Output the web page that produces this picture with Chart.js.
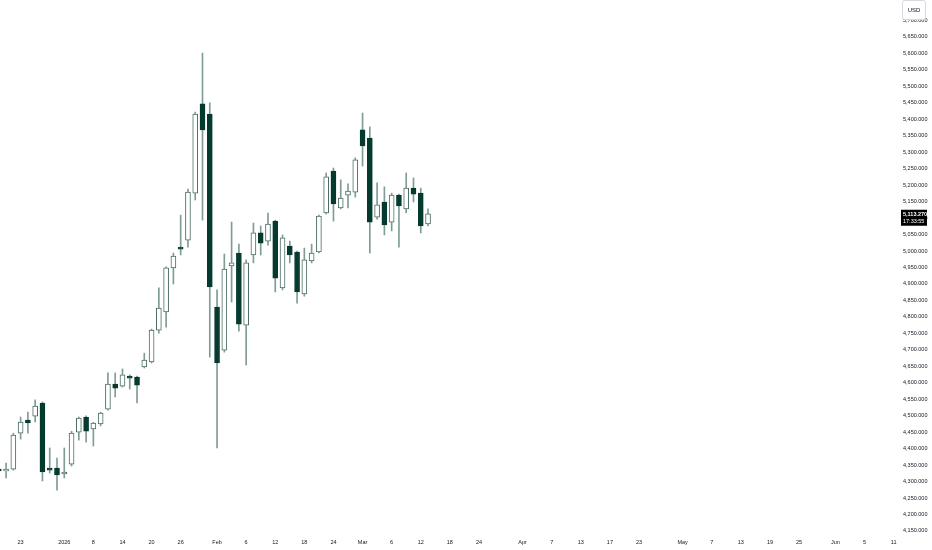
<!DOCTYPE html>
<html>
<head>
<meta charset="utf-8">
<script src="https://cdn.jsdelivr.net/npm/chart.js@4"></script>
<style>
  html, body { margin: 0; padding: 0; background: #ffffff; }
  #wrap { width: 932px; height: 550px; }
</style>
</head>
<body>
<div id="wrap"><canvas id="priceChart" width="932" height="550"></canvas></div>
<script>
// daily candles, Dec 18 .. Mar 13 (one entry per trading day)
const openP = [4338, 4332, 4338, 4447, 4487, 4499, 4538, 4341, 4341, 4323,
  4353, 4450, 4496, 4460, 4475, 4520, 4596, 4590, 4620, 4617,
  4648, 4663, 4760, 4815, 4949, 5012, 5033, 5176, 5447, 5416,
  4830, 4699, 4955, 4994, 4775, 4988, 5055, 5030, 5091, 4888,
  5015, 4997, 4870, 4970, 4997, 5116, 5243, 5131, 5170, 5179,
  5368, 5343, 5103, 5149, 5088, 5170, 5128, 5191, 5176, 5082];
const highP = [4341, 4356, 4447, 4496, 4511, 4548, 4542, 4402, 4371, 4402,
  4453, 4496, 4500, 4480, 4511, 4630, 4630, 4642, 4624, 4620,
  4690, 4763, 4888, 4952, 4994, 5109, 5188, 5422, 5601, 5450,
  4882, 4991, 5088, 5021, 4973, 5085, 5076, 5115, 5094, 5049,
  5030, 5000, 5009, 5021, 5109, 5237, 5252, 5216, 5204, 5283,
  5419, 5377, 5207, 5195, 5176, 5173, 5237, 5222, 5191, 5128];
const lowP = [4329, 4311, 4335, 4429, 4447, 4481, 4302, 4326, 4274, 4311,
  4347, 4426, 4420, 4408, 4469, 4517, 4557, 4587, 4581, 4539,
  4645, 4660, 4751, 4769, 4900, 4988, 5012, 5155, 5094, 4678,
  4402, 4693, 4845, 4757, 4654, 4964, 4988, 5018, 4876, 4882,
  4964, 4842, 4863, 4964, 4994, 5112, 5091, 5128, 5131, 5164,
  5258, 4994, 5097, 5049, 5061, 5012, 5116, 5149, 5055, 5076];
const closeP = [4332, 4338, 4441, 4481, 4478, 4529, 4329, 4335, 4320, 4329,
  4447, 4493, 4453, 4478, 4508, 4596, 4584, 4624, 4614, 4593,
  4669, 4760, 4827, 4949, 4985, 5006, 5179, 5416, 5368, 4891,
  4660, 4945, 4964, 4778, 4964, 5055, 5024, 5082, 4918, 5040,
  4988, 4876, 4973, 4994, 5106, 5225, 5143, 5161, 5182, 5277,
  5319, 5088, 5140, 5079, 5170, 5137, 5191, 5173, 5076, 5113.27];

// time axis: bar index -> label
const tickPos = [3, 9, 13, 17, 21, 25, 30, 34, 38, 42, 46, 50, 54, 58, 62,
  66, 72, 76, 80, 84, 88, 94, 98, 102, 106, 110, 115, 119, 123];
const tickText = ["23", "2026", "8", "14", "20", "26", "Feb", "6", "12", "18", "24", "Mar", "6", "12", "18",
  "24", "Apr", "7", "13", "17", "23", "May", "7", "13", "19", "25", "Jun", "5", "11"];

// price axis labels run 4,150 .. 5,700 in steps of 50
const priceTickLow = 4150;
const priceTickHigh = 5700;

const currency = "USD";
const countdown = "17:33:55";

const UP_FILL = "#ffffff";
const UP_EDGE = "#4a6c64";
const DOWN = "#053a2e";
const WICK = "#7f9c95";
const TEXT = "#131722";
const FONT = "'Liberation Sans', Arial, sans-serif";

const fmt = (v) => v.toLocaleString("en-US", { minimumFractionDigits: 3, maximumFractionDigits: 3 });

const idx = closeP.map((_, i) => i);
const isUp = idx.map((i) => closeP[i] >= openP[i]);

const wickData = idx.map((i) => ({ x: i, y: [lowP[i], highP[i]] }));
const bodyData = idx.map((i) => ({
  x: i,
  y: [Math.min(openP[i], closeP[i]), Math.max(openP[i], closeP[i])],
}));

// price scale tag + last price box
const overlay = {
  id: "overlay",
  afterDraw(chart) {
    const ctx = chart.ctx;
    const area = chart.chartArea;
    const yScale = chart.scales.y;
    ctx.save();

    // currency box
    const bx = area.right + 4.5;
    ctx.fillStyle = "#ffffff";
    ctx.strokeStyle = "#d6d9e0";
    ctx.lineWidth = 1;
    ctx.beginPath();
    ctx.roundRect(bx, 0.5, 23, 19, 2);
    ctx.fill();
    ctx.stroke();
    ctx.fillStyle = TEXT;
    ctx.font = "6px " + FONT;
    ctx.textAlign = "center";
    ctx.textBaseline = "middle";
    ctx.fillText(currency, bx + 11.5, 10);

    // last price
    const last = closeP[closeP.length - 1];
    const py = yScale.getPixelForValue(last);
    ctx.fillStyle = "#000000";
    ctx.fillRect(area.right + 3, py - 4, 26, 16);
    ctx.fillStyle = "#ffffff";
    ctx.textAlign = "left";
    ctx.font = "bold 5.5px " + FONT;
    ctx.fillText(fmt(last), area.right + 5, py + 0.5);
    ctx.font = "5.5px " + FONT;
    ctx.fillText(countdown, area.right + 5, py + 7.5);
    ctx.restore();
  },
};

const ctx = document.getElementById("priceChart").getContext("2d");

const priceChart = new Chart(ctx, {
  type: "bar",
  data: {
    datasets: [
      {
        label: "body",
        data: bodyData,
        order: 0,
        barThickness: 5,
        backgroundColor: idx.map((i) => (isUp[i] ? UP_FILL : DOWN)),
        borderColor: idx.map((i) => (isUp[i] ? UP_EDGE : DOWN)),
        borderWidth: 1,
        borderSkipped: false,
        grouped: false,
      },
      {
        label: "wick",
        data: wickData,
        order: 1,
        barThickness: 1,
        backgroundColor: WICK,
        borderWidth: 0,
        grouped: false,
      },
    ],
  },
  options: {
    responsive: false,
    animation: false,
    events: [],
    layout: { padding: 0 },
    plugins: {
      legend: { display: false },
      tooltip: { enabled: false },
    },
    scales: {
      x: {
        type: "linear",
        offset: false,
        min: 0.165,
        max: 123.6,
        grid: { display: false, drawTicks: false },
        border: { display: false },
        afterBuildTicks: (scale) => {
          scale.ticks = tickPos.map((v) => ({ value: v }));
        },
        afterFit: (scale) => {
          scale.height = 15;
          scale.paddingLeft = 0;
          scale.paddingRight = 0;
        },
        ticks: {
          autoSkip: false,
          maxRotation: 0,
          padding: 4,
          color: TEXT,
          font: { family: FONT, size: 5.5 },
          callback: (v, i) => tickText[i],
        },
      },
      y: {
        type: "linear",
        position: "right",
        beginAtZero: false,
        min: 4137.8,
        max: 5762.3,
        grid: { display: false, drawTicks: false },
        border: { display: false },
        afterBuildTicks: (scale) => {
          scale.ticks = scale.ticks.filter((t) => t.value >= priceTickLow && t.value <= priceTickHigh);
        },
        afterFit: (scale) => {
          scale.width = 34;
          scale.paddingTop = 0;
          scale.paddingBottom = 0;
        },
        ticks: {
          stepSize: 50,
          includeBounds: false,
          autoSkip: false,
          padding: 5,
          color: TEXT,
          font: { family: FONT, size: 5.5 },
          callback: (v) => fmt(v),
        },
      },
    },
  },
  plugins: [overlay],
});
</script>
</body>
</html>
